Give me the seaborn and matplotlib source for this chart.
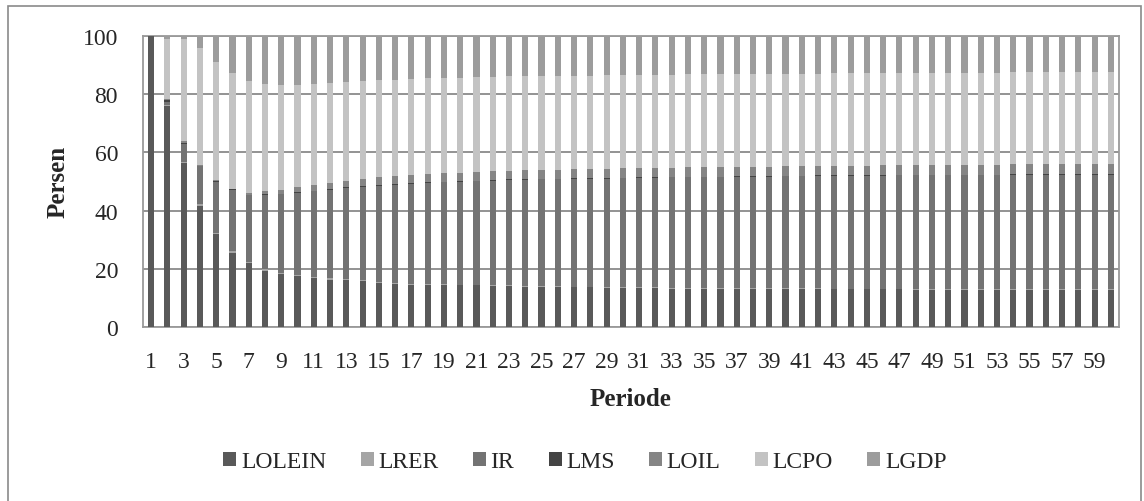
import numpy as np
import pandas as pd
import matplotlib
matplotlib.use("Agg")
import matplotlib.pyplot as plt
from matplotlib.patches import Patch, Rectangle
import seaborn as sns

periods = list(range(1, 61))
series_names = ["LOLEIN", "LRER", "IR", "LMS", "LOIL", "LCPO", "LGDP"]

LOLEIN = [100.0, 75.8, 56.2, 41.7, 31.8, 25.6, 21.9, 19.4, 18.3, 17.5,
          16.8, 16.3, 16.0, 15.7, 15.2, 14.9, 14.6, 14.5, 14.5, 14.3,
          14.3, 14.1, 14.0, 13.9, 13.8, 13.7, 13.6, 13.6, 13.5, 13.4,
          13.3, 13.3, 13.2, 13.2, 13.2, 13.1, 13.1, 13.1, 13.0, 13.0,
          13.0, 13.0, 12.9, 12.9, 12.9, 12.9, 12.9, 12.8, 12.8, 12.8,
          12.8, 12.8, 12.8, 12.8, 12.7, 12.7, 12.7, 12.7, 12.7, 12.7]
LRER = [0.0, 0.4, 0.4, 0.4, 0.4, 0.4, 0.4, 0.4, 0.4, 0.4,
        0.4, 0.4, 0.4, 0.4, 0.4, 0.3, 0.3, 0.3, 0.3, 0.3,
        0.3, 0.3, 0.3, 0.3, 0.3, 0.3, 0.3, 0.3, 0.3, 0.3,
        0.3, 0.3, 0.3, 0.3, 0.3, 0.3, 0.3, 0.3, 0.3, 0.3,
        0.3, 0.3, 0.3, 0.3, 0.3, 0.3, 0.3, 0.3, 0.3, 0.3,
        0.3, 0.3, 0.3, 0.3, 0.3, 0.3, 0.3, 0.3, 0.3, 0.3]
IR = [0.0, 1.1, 6.3, 13.1, 17.8, 21.0, 23.0, 25.6, 26.9, 28.3,
      29.5, 30.5, 31.4, 32.1, 32.9, 33.7, 34.3, 34.7, 34.9, 35.4,
      35.5, 35.9, 36.2, 36.4, 36.6, 36.8, 37.0, 37.1, 37.2, 37.4,
      37.6, 37.7, 37.9, 37.9, 38.0, 38.1, 38.2, 38.3, 38.4, 38.5,
      38.5, 38.6, 38.7, 38.8, 38.8, 38.8, 38.9, 39.0, 39.0, 39.1,
      39.1, 39.1, 39.1, 39.2, 39.3, 39.3, 39.3, 39.3, 39.4, 39.4]
LMS = [0.0, 0.6, 0.5, 0.2, 0.2, 0.3, 0.2, 0.2, 0.2, 0.2,
       0.2, 0.2, 0.2, 0.2, 0.2, 0.2, 0.2, 0.2, 0.2, 0.2,
       0.2, 0.2, 0.2, 0.2, 0.2, 0.2, 0.2, 0.2, 0.2, 0.2,
       0.2, 0.2, 0.2, 0.2, 0.2, 0.2, 0.2, 0.2, 0.2, 0.2,
       0.2, 0.2, 0.2, 0.2, 0.2, 0.2, 0.2, 0.2, 0.2, 0.2,
       0.2, 0.2, 0.2, 0.2, 0.2, 0.2, 0.2, 0.2, 0.2, 0.2]
LOIL = [0.0, 0.4, 0.4, 0.2, 0.2, 0.2, 0.5, 1.0, 1.3, 1.6,
        1.9, 2.2, 2.2, 2.5, 2.7, 2.9, 2.9, 2.9, 2.9, 2.8,
        3.0, 3.0, 3.0, 3.0, 3.0, 3.1, 3.1, 3.1, 3.2, 3.2,
        3.2, 3.2, 3.2, 3.3, 3.2, 3.3, 3.2, 3.2, 3.2, 3.2,
        3.2, 3.2, 3.2, 3.2, 3.2, 3.3, 3.2, 3.3, 3.3, 3.3,
        3.3, 3.4, 3.4, 3.4, 3.4, 3.4, 3.5, 3.5, 3.4, 3.4]
LCPO = [0.0, 20.6, 35.3, 40.2, 40.7, 39.8, 38.6, 36.8, 36.0, 35.1,
        34.6, 34.2, 33.9, 33.6, 33.4, 32.9, 32.8, 32.8, 32.7, 32.7,
        32.5, 32.4, 32.4, 32.4, 32.3, 32.2, 32.2, 32.1, 32.1, 32.0,
        32.0, 32.0, 31.9, 31.9, 31.9, 31.9, 31.9, 31.9, 31.9, 31.9,
        31.9, 31.8, 31.9, 31.8, 31.9, 31.8, 31.8, 31.8, 31.8, 31.7,
        31.7, 31.6, 31.6, 31.6, 31.6, 31.6, 31.5, 31.5, 31.5, 31.5]
LGDP = [0.0, 1.1, 0.9, 4.2, 8.9, 12.7, 15.4, 16.6, 16.9, 16.9,
        16.6, 16.2, 15.9, 15.5, 15.2, 15.1, 14.9, 14.6, 14.5, 14.3,
        14.2, 14.1, 13.9, 13.8, 13.8, 13.7, 13.6, 13.6, 13.5, 13.5,
        13.4, 13.3, 13.3, 13.2, 13.2, 13.1, 13.1, 13.0, 13.0, 12.9,
        12.9, 12.9, 12.8, 12.8, 12.7, 12.7, 12.7, 12.6, 12.6, 12.6,
        12.6, 12.6, 12.6, 12.5, 12.5, 12.5, 12.5, 12.5, 12.5, 12.5]

colors = ["#595959", "#a5a5a5", "#737373", "#444444", "#858585", "#c3c3c3", "#9c9c9c"]

df = pd.DataFrame({"Periode": periods, "LOLEIN": LOLEIN, "LRER": LRER, "IR": IR,
                   "LMS": LMS, "LOIL": LOIL, "LCPO": LCPO, "LGDP": LGDP})
cum = df[series_names].cumsum(axis=1)

sns.set_style("white")
plt.rcParams["font.family"] = ["Liberation Serif", "DejaVu Serif"]

W, H = 1144, 502
fig = plt.figure(figsize=(W / 100, H / 100), dpi=100)
ax = fig.add_axes([143 / W, 1 - 328 / H, (1119 - 143) / W, (328 - 37) / H])

order = [str(p) for p in periods]
for name, col in reversed(list(zip(series_names, colors))):
    sns.barplot(x=df["Periode"].astype(str), y=cum[name], order=order,
                color=col, width=0.38, ax=ax, errorbar=None,
                saturation=1, zorder=3, linewidth=0)

ax.set_ylim(0, 100)
ax.set_xlim(-0.5, len(periods) - 0.5)
ax.set_yticks([0, 20, 40, 60, 80, 100])
ax.set_yticklabels(["0", "20", "40", "60", "80", "100"], fontsize=17)
ax.set_xticks(range(0, len(periods), 2))
ax.set_xticklabels([str(p) for p in periods[::2]], fontsize=17)
ax.tick_params(axis="both", length=0)
ax.tick_params(axis="y", pad=18)
ax.tick_params(axis="x", pad=17)
ax.grid(axis="y", color="#8a8a8a", linewidth=1.3, zorder=1)
ax.set_axisbelow(True)
for s in ax.spines.values():
    s.set_visible(True)
    s.set_color("#9a9a9a")
    s.set_linewidth(1.3)

ax.set_xlabel("")
ax.set_ylabel("")
fig.text(58 / W, 1 - 182 / H, "Persen", rotation=90, ha="center", va="center",
         fontsize=18, fontweight="bold")
fig.text(630 / W, 1 - 400 / H, "Periode", ha="center", va="center",
         fontsize=18, fontweight="bold")

handles = [Patch(facecolor=c, edgecolor="none", label=n) for n, c in zip(series_names, colors)]
fig.legend(handles=handles, loc="center", bbox_to_anchor=(585 / W, 1 - 463 / H),
           ncol=7, frameon=False, fontsize=17, handlelength=0.55, handleheight=0.55,
           handletextpad=0.2, columnspacing=1.45)

fig.add_artist(Rectangle((8 / W, -0.1), (1141 - 8) / W, 1.1 - 7 / H,
                         transform=fig.transFigure, fill=False,
                         edgecolor="#8a8a8a", linewidth=1.2))

fig.savefig("out.png", dpi=100)
